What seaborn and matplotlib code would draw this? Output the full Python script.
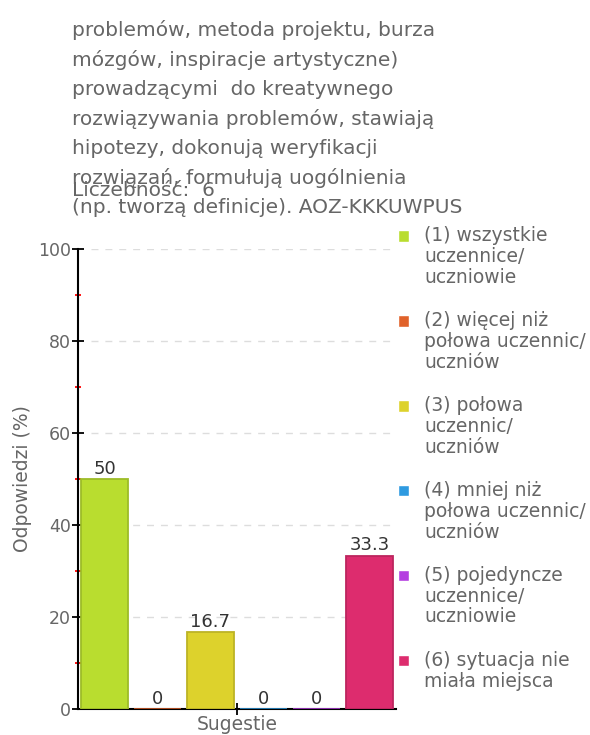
import matplotlib
matplotlib.use("Agg")
import matplotlib.pyplot as plt
import matplotlib.patches as mpatches
from matplotlib.legend_handler import HandlerPatch
import seaborn as sns
import pandas as pd
from matplotlib.ticker import MultipleLocator
import matplotlib.colors as mcolors

category = ["Sugestie"]
series_labels = [
    "(1) wszystkie\nuczennice/\nuczniowie",
    "(2) więcej niż\npołowa uczennic/\nuczniów",
    "(3) połowa\nuczennic/\nuczniów",
    "(4) mniej niż\npołowa uczennic/\nuczniów",
    "(5) pojedyncze\nuczennice/\nuczniowie",
    "(6) sytuacja nie\nmiała miejsca",
]
values = [50, 0, 16.7, 0, 0, 33.3]
colors = ["#b9dd2f", "#e0622a", "#ddd22c", "#2e9ae0", "#b43ee0", "#dd2c6e"]
title_lines = [
    "problemów, metoda projektu, burza",
    "mózgów, inspiracje artystyczne)",
    "prowadzącymi  do kreatywnego",
    "rozwiązywania problemów, stawiają",
    "hipotezy, dokonują weryfikacji",
    "rozwiązań, formułują uogólnienia",
    "(np. tworzą definicje). AOZ-KKKUWPUS",
]
count_text = "Liczebność:  6"
yticks = [0, 20, 40, 60, 80, 100]

df = pd.DataFrame({"x": category * len(values), "hue": series_labels, "v": values})

sns.set_style("white")
plt.rcParams["font.family"] = ["DejaVu Sans"]

fig = plt.figure(figsize=(5.9, 7.35), dpi=100)
ax = fig.add_axes([78 / 590, 1 - 709 / 735, 318 / 590, 460 / 735])

sns.barplot(data=df, x="x", y="v", hue="hue", palette=colors, saturation=1,
            width=1.0, gap=0.13, ax=ax, legend=True, zorder=3)

for p, c in zip(ax.patches, colors):
    rgb = mcolors.to_rgb(c)
    p.set_edgecolor(tuple(v * 0.85 for v in rgb))
    p.set_linewidth(1.3)

for cont, v in zip(ax.containers, values):
    ax.bar_label(cont, labels=[f"{v:g}"], padding=1, fontsize=13, color="#333333")

ax.set_xlim(-0.5, 0.5)
ax.set_ylim(0, 100)
ax.set_yticks(yticks)
ax.yaxis.set_minor_locator(MultipleLocator(10))
ax.tick_params(axis="y", which="major", direction="inout", length=8, width=1.3,
               color="black", labelsize=12.5, labelcolor="#666666", pad=1, left=True)
ax.tick_params(axis="y", which="minor", direction="inout", length=5, width=1.3,
               color="red", left=True)
ax.tick_params(axis="x", which="major", direction="inout", length=8, width=1.3,
               color="black", labelsize=13.5, labelcolor="#666666", pad=0, bottom=True)
ax.set_xlabel("")
ax.set_ylabel("Odpowiedzi (%)", color="#666666", fontsize=13.5, labelpad=4)
for s in ["top", "right"]:
    ax.spines[s].set_visible(False)
for s in ["left", "bottom"]:
    ax.spines[s].set_color("black")
    ax.spines[s].set_linewidth(1.5)

for yv in yticks[1:]:
    ax.axhline(yv, xmin=0.04, xmax=0.98, color="#dddddd", linestyle=(0, (5, 5)),
               linewidth=1, zorder=0)


def square_patch(legend, orig_handle, xdescent, ydescent, width, height, fontsize):
    return mpatches.Rectangle((-xdescent, -ydescent), width, width)


leg = ax.legend(loc="upper left", bbox_to_anchor=(398 / 590, 1 - 226 / 735),
                bbox_transform=fig.transFigure, frameon=False, fontsize=13.5,
                labelcolor="#666666", handlelength=0.6, handleheight=0.9,
                handletextpad=0.8, labelspacing=1.3, borderaxespad=0, borderpad=0,
                handler_map={mpatches.Patch: HandlerPatch(patch_func=square_patch)})
for t in leg.get_texts():
    t.set_linespacing(1.12)
for col in leg._legend_handle_box.get_children():
    for row in col.get_children():
        row.align = "top"

y0 = 30
for i, line in enumerate(title_lines):
    fig.text(72 / 590, 1 - (y0 + i * 29.6) / 735, line, fontsize=14.5, color="#666666",
             va="center", ha="left")
fig.text(72 / 590, 1 - 190 / 735, count_text, fontsize=14.5, color="#666666",
         va="center", ha="left")

fig.savefig("out.png", dpi=100)
